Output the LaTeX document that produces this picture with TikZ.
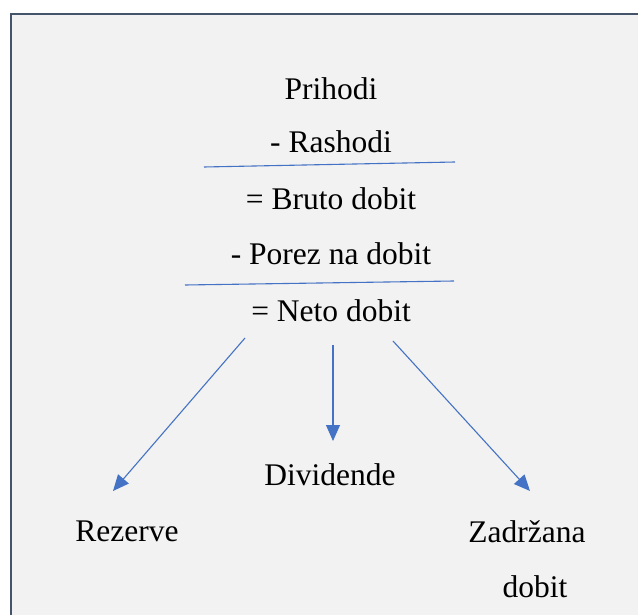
\documentclass[tikz,border=0pt]{standalone}
\usepackage{fontspec}
\setmainfont{Liberation Serif}
\usepackage{tikz}
\usetikzlibrary{arrows.meta}
\usetikzlibrary{calc}

\definecolor{okvir}{HTML}{44546A}
\definecolor{pozadina}{HTML}{F2F2F2}
\definecolor{plava}{HTML}{4472C4}

\tikzset{
  stavka/.style={anchor=base,inner sep=0pt,font=\fontsize{31.5}{38}\selectfont},
  crta/.style={draw=plava,line width=1.1pt},
  strelica/.style={draw=plava,line width=1.1pt,-{Triangle[length=16pt,width=14pt]}}
}

\begin{document}
\begin{tikzpicture}[x=1pt,y=-1pt]
\useasboundingbox (0,0) rectangle (638,615);
\fill[pozadina] (11,14) rectangle (645,625);
\draw[okvir,line width=2.2pt] (11,625) -- (11,14) -- (645,14);

 \foreach \y/\i [count=\n] in  
        {100/Prihodi,153/- Rashodi,210/= Bruto dobit,265/- Porez na dobit,321/= Neto dobit} 
           \node[stavka] at (331,\y) (R\n) {\i};

\coordinate (L1a) at (204,167);
\coordinate (L1b) at (455,162);
\coordinate (L2a) at (185,285);
\coordinate (L2b) at (454,281);
\draw[crta] (L1a) -- (L1b);
\draw[crta] (L2a) -- (L2b);

\node[stavka] at (330,485) (div) {Dividende};
\node[stavka] at (127,541) (rez) {Rezerve};
\node[stavka] at (527,542) (zad) {Zadržana};
\node[stavka] at (535,597) (dob) {dobit};

\coordinate (A1) at (245,338);
\coordinate (A2) at (333,345);
\coordinate (A3) at (393,341);
\coordinate (B1) at (113,491);
\coordinate (B2) at (333,441);
\coordinate (B3) at (530,491);
\draw[strelica] (A1) -- (B1);
\draw[strelica] (A2) -- (B2);
\draw[strelica] (A3) -- (B3);

\end{tikzpicture}
\end{document}
